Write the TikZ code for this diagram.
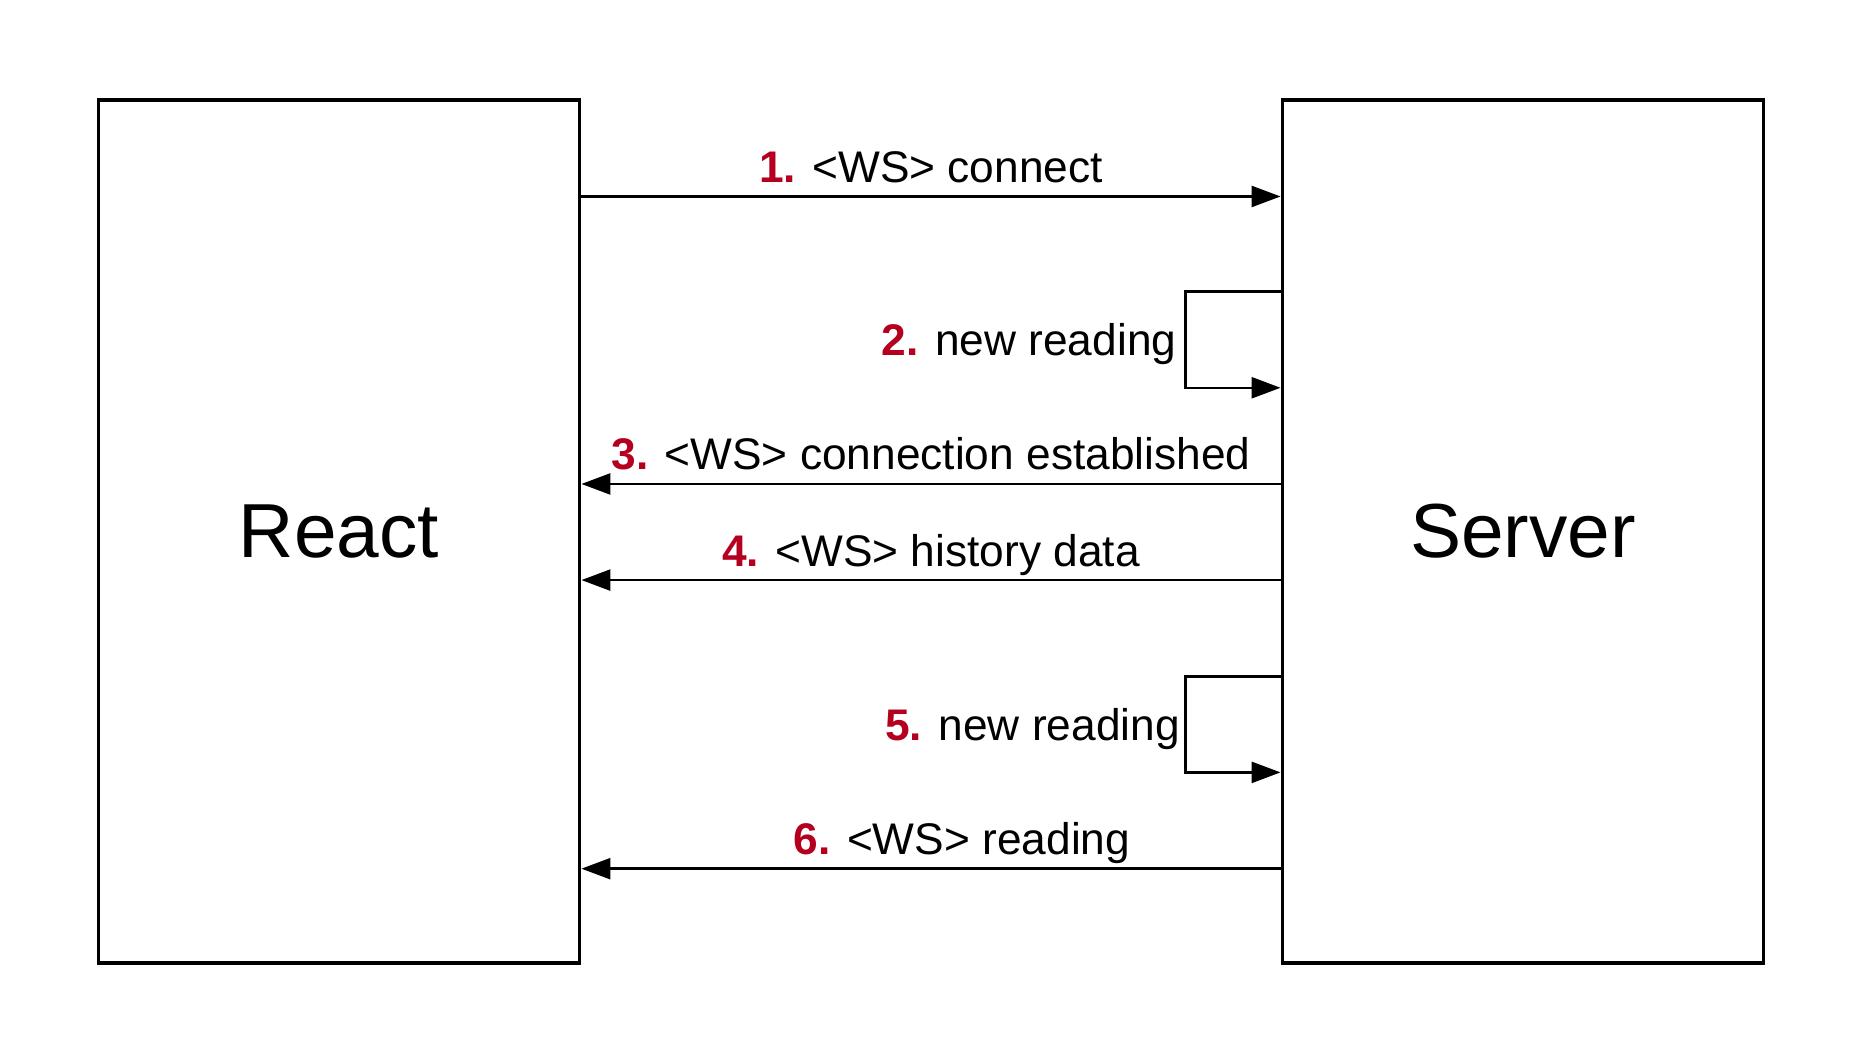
\documentclass[tikz,border=0pt]{standalone}
\usepackage{fontspec}
\setmainfont{Liberation Sans}
\usetikzlibrary{arrows.meta,calc}
\definecolor{numred}{RGB}{180,0,30}
\begin{document}
\begin{tikzpicture}[x=1cm,y=1cm,
  box/.style={draw=black, line width=1.1pt, minimum width=4.81cm, minimum height=8.63cm, inner sep=0pt,
    font=\fontsize{21.8}{26}\selectfont},
  arr/.style={draw=black, line width=0.7pt, -{Triangle[length=0.29cm,width=0.21cm]}},
  lbl/.style={font=\fontsize{12.6}{15}\selectfont, anchor=base, inner sep=0pt},
  llbl/.style={font=\fontsize{12.6}{15}\selectfont, anchor=east, inner sep=0pt}
]
\useasboundingbox (0,0) rectangle (18.62,-10.62);
\node[box] (react) at (3.39,-5.314) {React};
\node[box] (server) at (15.23,-5.314) {Server};
\newcommand{\nr}[1]{\textcolor{numred}{\textbf{#1}}}
% 1
\coordinate (a1s) at ($(react.north east)+(0,-0.985)$);
\coordinate (a1e) at ($(server.north west)+(0,-0.985)$);
\draw[arr] (a1s) -- (a1e);
\node[lbl] (l1) at ($(a1s)!0.5!(a1e)+(0,0.14)$) {\nr{1.} <WS> connect};
% 2 loop
\coordinate (b2t) at ($(server.north west)+(0,-1.935)$);
\coordinate (b2b) at ($(server.north west)+(0,-2.898)$);
\coordinate (b2l) at ($(server.north west)+(-0.95,-1.935)$);
\draw[arr] (b2t) -- (b2l) |- (b2b);
\node[llbl] (l2) at ($(server.north west)+(-1.035,-2.46)$) {\nr{2.} new reading};
% 3
\coordinate (a3s) at ($(server.north west)+(0,-3.86)$);
\coordinate (a3e) at ($(react.north east)+(0,-3.86)$);
\draw[arr] (a3s) -- (a3e);
\node[lbl] (l3) at ($(a3s)!0.5!(a3e)+(0,0.14)$) {\nr{3.} <WS> connection established};
% 4
\coordinate (a4s) at ($(server.north west)+(0,-4.821)$);
\coordinate (a4e) at ($(react.north east)+(0,-4.821)$);
\draw[arr] (a4s) -- (a4e);
\node[lbl] (l4) at ($(a4s)!0.5!(a4e)+(0,0.14)$) {\nr{4.} <WS> history data};
% 5 loop
\coordinate (b5t) at ($(server.north west)+(0,-5.784)$);
\coordinate (b5b) at ($(server.north west)+(0,-6.744)$);
\coordinate (b5l) at ($(server.north west)+(-0.95,-5.784)$);
\draw[arr] (b5t) -- (b5l) |- (b5b);
\node[llbl] (l5) at ($(server.north west)+(-1.0,-6.31)$) {\nr{5.} new reading};
% 6
\coordinate (a6s) at ($(server.north west)+(0,-7.707)$);
\coordinate (a6e) at ($(react.north east)+(0,-7.707)$);
\draw[arr] (a6s) -- (a6e);
\node[lbl] (l6) at ($(a6s)!0.5!(a6e)+(0.31,0.14)$) {\nr{6.} <WS> reading};
\end{tikzpicture}
\end{document}
